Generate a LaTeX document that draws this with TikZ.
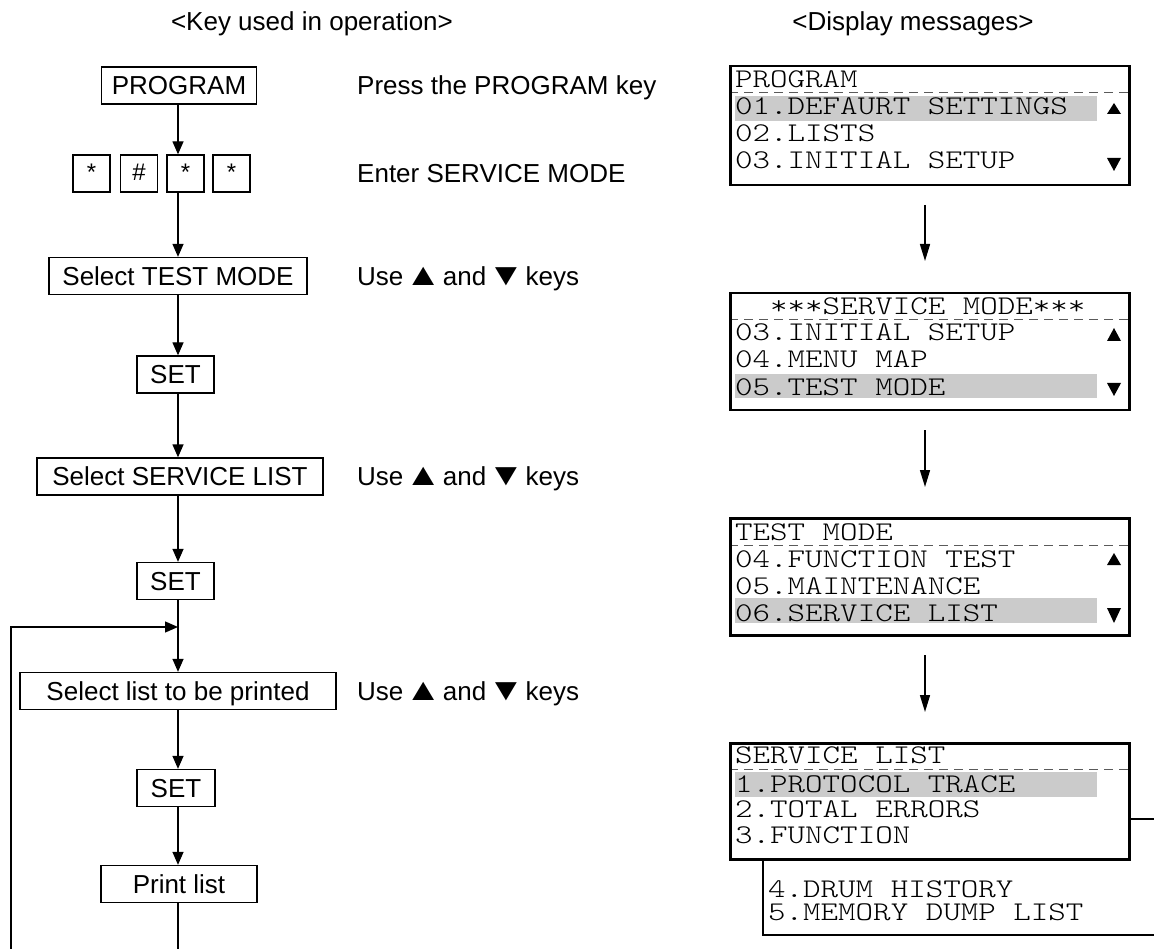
\documentclass[tikz,border=0pt]{standalone}
\usepackage{fontspec}
\usepackage{graphicx}
\setmainfont{Liberation Sans}
\newfontfamily\lcdfont{lmmonolt10-regular.otf}[FakeStretch=1.235]
\usetikzlibrary{arrows.meta}
\definecolor{hl}{HTML}{CBCBCB}
\definecolor{dashgray}{HTML}{5A5A5A}
\newcommand\uptri{\makebox[25pt][c]{\scalebox{1.43}[1.2]{▲}}}
\newcommand\dntri{\makebox[25pt][c]{\scalebox{1.43}[1.2]{▼}}}
\begin{document}
\begin{tikzpicture}[x=1pt,y=-1pt,
  kbox/.style={draw, line width=1.3pt, inner sep=0pt, font=\fontsize{26}{30}\selectfont, text height=18.6pt, text depth=0pt, minimum height=37pt},
  keybox/.style={draw, line width=1.3pt, inner sep=0pt, font=\fontsize{24}{28}\selectfont, minimum width=37pt, minimum height=37pt, text height=15pt, text depth=0pt},
  note/.style={inner sep=0pt, anchor=west, font=\fontsize{26}{30}\selectfont, text height=18.6pt, text depth=0pt},
  hdr/.style={inner sep=0pt, font=\fontsize{26}{30}\selectfont, text height=18.6pt, text depth=0pt},
  arr/.style={line width=1.3pt, -{Triangle[length=13pt,width=11pt]}},
  ln/.style={line width=1.3pt},
  darr/.style={line width=1.5pt, -{Triangle[length=17pt,width=10pt]}},
  lcdbox/.style={draw, line width=2.5pt, inner sep=0pt, minimum width=399pt, minimum height=117pt, anchor=north west},
  lcdln/.style={line width=2.5pt},
  lcdtxt/.style={inner sep=0pt, anchor=base west, font=\lcdfont\fontsize{27}{30}\selectfont, text height=17pt, text depth=1pt},
  dashln/.style={line width=1pt, dashgray, dash pattern=on 9pt off 6pt},
  tri/.style={fill=black}
]
\useasboundingbox (0,0) rectangle (1154,949);

% headers
\node[hdr] (h1) at (312,21.5) {<Key used in operation>};
\node[hdr] (h2) at (913,21.5) {<Display messages>};

% left column
\coordinate (spine) at (178,0);
\node[kbox, minimum width=155pt] (prog) at (179,85.5) {PROGRAM};
\node[keybox] (k1) at (91.5,173.5) {*};
\node[keybox] (k2) at (139,173.5) {\#};
\node[keybox] (k3) at (185.5,173.5) {*};
\node[keybox] (k4) at (231.5,173.5) {*};
\node[kbox, minimum width=258pt] (tm) at (178,276) {Select TEST MODE};
\node[kbox, minimum width=77pt] (set1) at (175.5,374.5) {SET};
\node[kbox, minimum width=286pt] (sl) at (180,476.5) {Select SERVICE LIST};
\node[kbox, minimum width=77pt] (set2) at (175.5,581) {SET};
\node[kbox, minimum width=316pt] (sp) at (178,691) {Select list to be printed};
\node[kbox, minimum width=78pt] (set3) at (176,788) {SET};
\node[kbox, minimum width=156pt] (pl) at (179,884) {Print list};

\coordinate (join) at (178,627);
\coordinate (lbot) at (11,949);
\coordinate (pbot) at (178,949);

\draw[arr] (prog.south -| spine) -- (k3.north -| spine);
\draw[arr] (k3.south -| spine) -- (tm.north -| spine);
\draw[arr] (tm.south -| spine) -- (set1.north -| spine);
\draw[arr] (set1.south -| spine) -- (sl.north -| spine);
\draw[arr] (sl.south -| spine) -- (set2.north -| spine);
\draw[arr] (set2.south -| spine) -- (sp.north -| spine);
\draw[arr] (sp.south -| spine) -- (set3.north -| spine);
\draw[arr] (set3.south -| spine) -- (pl.north -| spine);
\draw[ln] (pl.south -| spine) -- (pbot);
\draw[arr] (lbot) |- (join);

% notes
\node[note] (n1) at (357,85.5) {Press the PROGRAM key};
\node[note] (n2) at (357,173.5) {Enter SERVICE MODE};
\node[note] (n3) at (357,276) {Use \uptri{} and \dntri{} keys};
\node[note] (n4) at (357,476.5) {Use \uptri{} and \dntri{} keys};
\node[note] (n5) at (357,691) {Use \uptri{} and \dntri{} keys};

% LCD 1
\begin{scope}[shift={(0,65)}]
\fill[hl] (735,31) rectangle (1097,56);
\draw[dashln] (729,28) -- (1128,28);
\node[lcdtxt] (l1a) at (735,23) {PROGRAM};
\node[lcdtxt] (l1b) at (735,50) {01.DEFAURT SETTINGS};
\node[lcdtxt] (l1c) at (735,77) {02.LISTS};
\node[lcdtxt] (l1d) at (735,104) {03.INITIAL SETUP};
\fill[tri] (1107,49) -- (1121,49) -- (1114,38) -- cycle;
\fill[tri] (1107,93) -- (1121,93) -- (1114,106) -- cycle;
\node[lcdbox, minimum height=119pt] (lcd1) at (729,0) {};
\end{scope}

% LCD 2
\begin{scope}[shift={(0,292)}]
\fill[hl] (735,82) rectangle (1097,106);
\draw[dashln] (729,28) -- (1128,28);
\node[lcdtxt] (l2a) at (735,23) {\hphantom{00}***SERVICE MODE***};
\node[lcdtxt] (l2b) at (735,49) {03.INITIAL SETUP};
\node[lcdtxt] (l2c) at (735,76) {04.MENU MAP};
\node[lcdtxt] (l2d) at (735,104) {05.TEST MODE};
\fill[tri] (1107,49) -- (1121,49) -- (1114,36) -- cycle;
\fill[tri] (1107,91) -- (1121,91) -- (1114,104) -- cycle;
\node[lcdbox] (lcd2) at (729,0) {};
\end{scope}

% LCD 3
\begin{scope}[shift={(0,517)}]
\fill[hl] (735,81) rectangle (1097,106);
\draw[dashln] (729,28) -- (1128,28);
\node[lcdtxt] (l3a) at (735,23) {TEST MODE};
\node[lcdtxt] (l3b) at (735,50) {04.FUNCTION TEST};
\node[lcdtxt] (l3c) at (735,77) {05.MAINTENANCE};
\node[lcdtxt] (l3d) at (735,104) {06.SERVICE LIST};
\fill[tri] (1107,48) -- (1121,48) -- (1114,36) -- cycle;
\fill[tri] (1107,91) -- (1121,91) -- (1114,106) -- cycle;
\node[lcdbox] (lcd3) at (729,0) {};
\end{scope}

% LCD 4
\begin{scope}[shift={(0,742)}]
\fill[hl] (735,30) rectangle (1097,55);
\draw[dashln] (729,27) -- (1128,27);
\node[lcdtxt] (l4a) at (735,21) {SERVICE LIST};
\node[lcdtxt] (l4b) at (735,50) {1.PROTOCOL TRACE};
\node[lcdtxt] (l4c) at (735,75) {2.TOTAL ERRORS};
\node[lcdtxt] (l4d) at (735,101) {3.FUNCTION};
\node[lcdbox, minimum height=116pt] (lcd4) at (729,0) {};
\end{scope}

\coordinate (e1) at (1154,819);
\coordinate (e2) at (1154,935);
\coordinate (extl) at (763,858);
\draw[lcdln] (lcd4.east |- e1) -- (e1);
\draw[lcdln] (extl) |- (e2);
\node[lcdtxt] (l4e) at (768,897) {4.DRUM HISTORY};
\node[lcdtxt] (l4f) at (768,920) {5.MEMORY DUMP LIST};

% right arrows
\coordinate (r1s) at (925,205); \coordinate (r1e) at (925,261);
\coordinate (r2s) at (925,430); \coordinate (r2e) at (925,487);
\coordinate (r3s) at (925,655); \coordinate (r3e) at (925,712);
\draw[darr] (r1s) -- (r1e);
\draw[darr] (r2s) -- (r2e);
\draw[darr] (r3s) -- (r3e);
\end{tikzpicture}
\end{document}
